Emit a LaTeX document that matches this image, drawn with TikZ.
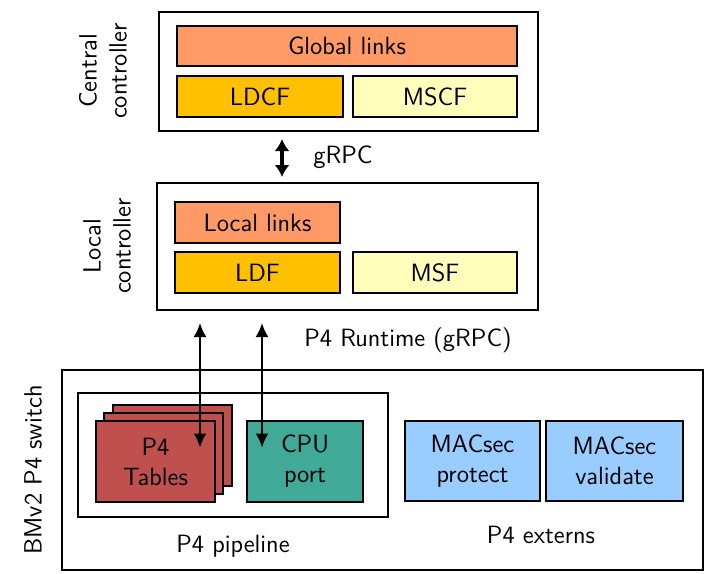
\documentclass[tikz,border=0pt]{standalone}
\usetikzlibrary{arrows.meta,positioning}
\definecolor{globfill}{HTML}{FF9966}
\definecolor{ldfill}{HTML}{FFC000}
\definecolor{msfill}{HTML}{FFFFBB}
\definecolor{tabfill}{HTML}{C0504D}
\definecolor{cpufill}{HTML}{40A998}
\definecolor{macfill}{HTML}{99CCFF}
\tikzset{>=Latex,
  every node/.style={font=\sffamily\fontsize{12.5}{15}\selectfont},
  frame/.style={draw,line width=1pt,inner sep=0pt},
  block/.style={draw,line width=.9pt,inner sep=0pt,align=center},
  link/.style={<->,line width=1pt,>={Latex[length=7pt,width=6.5pt]}}}
\begin{document}
\begin{tikzpicture}[x=.5pt,y=-.5pt]
\useasboundingbox (0,0) rectangle (706,573);
% central controller
\node[frame,minimum width=189.5pt,minimum height=59.5pt](cc)at(348.5,71.5){};
\node[block,fill=globfill,minimum width=170pt,minimum height=20pt](glob)at(347,46){Global links};
\node[block,fill=ldfill,minimum width=83pt,minimum height=20.5pt](ldcf)at(260,96.5){LDCF};
\node[block,fill=msfill,minimum width=82pt,minimum height=20.5pt](mscf)at(435,96.5){MSCF};
\node[rotate=90,align=center](cclab)at(103,71){Central\\controller};
% local controller
\node[frame,minimum width=190.5pt,minimum height=63.5pt](lc)at(347.5,246.5){};
\node[block,fill=globfill,minimum width=82.5pt,minimum height=20.5pt](loc)at(257.5,222.5){Local links};
\node[block,fill=ldfill,minimum width=82.5pt,minimum height=20.5pt](ldf)at(257.5,272.5){LDF};
\node[block,fill=msfill,minimum width=82pt,minimum height=20.5pt](msf)at(435,272.5){MSF};
\node[rotate=90,align=center](lclab)at(107,246){Local\\controller};
% gRPC between controllers
\coordinate(g1)at(282,139);\coordinate(g2)at(282,177);
\draw[link,line width=1.6pt,>={Latex[length=6pt,width=7.5pt]}](g1)--(g2);
\node(grpc)at(343,157){gRPC};
% switch
\node[frame,minimum width=320.5pt,minimum height=100pt](sw)at(382.5,470){};
\node[rotate=90](swlab)at(33,470){BMv2 P4 switch};
\node[frame,minimum width=155pt,minimum height=62pt](pipe)at(233,455){};
\node(pipelab)at(233,546){P4 pipeline};
\foreach \k/\dx/\dy in {3/17/-16,2/8/-8}
  \node[block,fill=tabfill,minimum width=59.5pt,minimum height=40.5pt](tab\k)at({155.5+\dx},{461.5+\dy}){};
\node[block,fill=tabfill,minimum width=59.5pt,minimum height=40.5pt](tab1)at(155.5,461.5){P4\\Tables};
\node[block,fill=cpufill,minimum width=58pt,minimum height=40.5pt](cpu)at(305,461.5){CPU\\port};
\node[block,fill=macfill,minimum width=67.5pt,minimum height=40pt](macp)at(472.5,461){MACsec\\protect};
\node[block,fill=macfill,minimum width=68.5pt,minimum height=40pt](macv)at(614.5,461){MACsec\\validate};
\node(extlab)at(541,535){P4 externs};
% P4 Runtime arrows
\coordinate(r1)at(200,323);\coordinate(r2)at(262,323);
\draw[link](r1)--([yshift=7pt]r1|-tab1.center);
\draw[link](r2)--([yshift=7pt]r2|-cpu.center);
\node(rtlab)at(408,340){P4 Runtime (gRPC)};
\end{tikzpicture}
\end{document}
